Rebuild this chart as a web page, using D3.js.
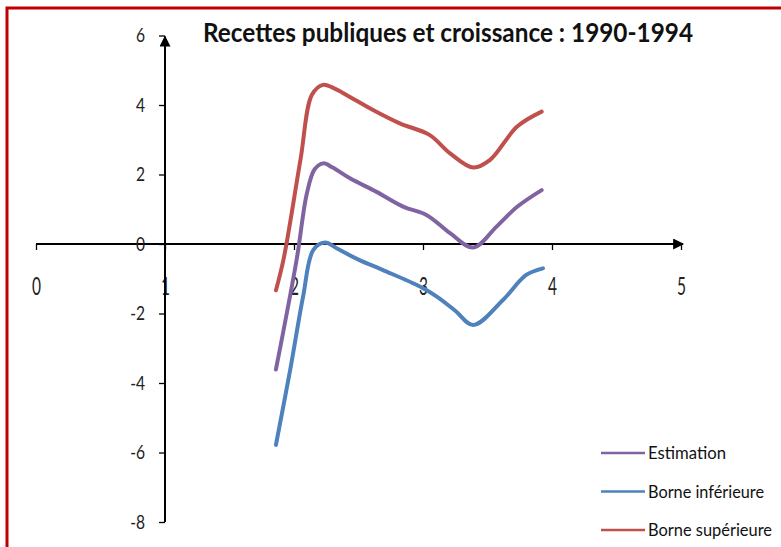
<!DOCTYPE html>
<html><head><meta charset="utf-8">
<script src="https://cdn.jsdelivr.net/npm/d3@7"></script>
<style>
html,body{margin:0;padding:0;background:#fff;}
svg{display:block;}
</style></head>
<body>
<svg id="chart" width="781" height="547"></svg>
<script>
// ---- data ----
const title = "Recettes publiques et croissance : 1990-1994";
const seriesNames = ["Estimation", "Borne inférieure", "Borne supérieure"];
const seriesColors = ["#8064A2", "#4F81BD", "#C0504D"];
const xTicks = [0, 1, 2, 3, 4, 5];
const yTicks = [-8, -6, -4, -2, 0, 2, 4, 6];

const estimationX = [1.86, 2.02, 2.10, 2.16, 2.227, 2.30, 2.434, 2.64, 2.85, 3.03, 3.21, 3.39, 3.57, 3.73, 3.92];
const estimationY = [-3.61, -0.46, 1.46, 2.15, 2.32, 2.20, 1.89, 1.50, 1.07, 0.83, 0.31, -0.10, 0.50, 1.07, 1.55];

const inferieureX = [1.86, 1.97, 2.07, 2.15, 2.24, 2.33, 2.50, 2.69, 2.98, 3.11, 3.25, 3.39, 3.62, 3.80, 3.93];
const inferieureY = [-5.78, -3.63, -1.52, -0.17, 0.04, -0.12, -0.45, -0.75, -1.23, -1.52, -1.92, -2.33, -1.61, -0.89, -0.70];

const superieureX = [1.86, 1.92, 2.05, 2.14, 2.225, 2.30, 2.43, 2.62, 2.82, 3.05, 3.21, 3.39, 3.52, 3.73, 3.92];
const superieureY = [-1.33, -0.42, 2.42, 4.30, 4.58, 4.50, 4.24, 3.84, 3.47, 3.14, 2.61, 2.20, 2.42, 3.38, 3.81];

// ---- drawing ----
const svg = d3.select("#chart");
const x = d3.scaleLinear().domain([0, 5]).range([36, 681]);
const y = d3.scaleLinear().domain([-8, 6]).range([522, 35.5]);
const fmt = d => String(d);

// frame
svg.append("path").attr("d", "M7,547 V8 H781").attr("fill", "none")
  .attr("stroke", "#C00000").attr("stroke-width", 3);

const defs = svg.append("defs");
defs.append("marker").attr("id", "arr").attr("viewBox", "0 0 10 10")
  .attr("refX", 9).attr("refY", 5).attr("markerWidth", 14).attr("markerHeight", 11)
  .attr("markerUnits", "userSpaceOnUse").attr("orient", "auto")
  .append("path").attr("d", "M0,0 L10,5 L0,10 Z").attr("fill", "#000");

// x axis
const xAxis = d3.axisBottom(x).tickValues(xTicks).tickSizeInner(6).tickSizeOuter(0).tickPadding(27)
  .tickFormat(fmt);
const gx = svg.append("g").attr("transform", `translate(0,${y(0)})`).call(xAxis);
gx.select(".domain").remove();
gx.append("line").attr("x1", x(0)).attr("x2", x(5) + 2).attr("y1", 0).attr("y2", 0)
  .attr("stroke", "#000").attr("stroke-width", 2).attr("marker-end", "url(#arr)");
gx.selectAll(".tick line").attr("stroke", "#000").attr("stroke-width", 1.3);
gx.selectAll(".tick text").attr("font-family", "Lato, 'Open Sans', sans-serif")
  .attr("font-size", 25).attr("fill", "#222").attr("transform", "scale(0.62,1)");

// y axis
const yAxis = d3.axisLeft(y).tickValues(yTicks).tickSizeInner(6).tickSizeOuter(0).tickPadding(14)
  .tickFormat(fmt);
const gy = svg.append("g").attr("transform", `translate(${x(1)},0)`).call(yAxis);
gy.select(".domain").remove();
gy.append("line").attr("x1", 0).attr("x2", 0).attr("y1", y(-8)).attr("y2", y(6) + 1)
  .attr("stroke", "#000").attr("stroke-width", 2).attr("marker-end", "url(#arr)");
gy.selectAll(".tick line").attr("stroke", "#000").attr("stroke-width", 1.3);
gy.selectAll(".tick text").attr("font-family", "Lato, 'Open Sans', sans-serif")
  .attr("font-size", 20).attr("fill", "#222")
  .attr("x", -20 / 0.78).attr("transform", "scale(0.78,1)");

// lines
const line = d3.line().x(d => x(d[0])).y(d => y(d[1])).curve(d3.curveCatmullRom.alpha(0.5));
const seriesData = [
  d3.zip(estimationX, estimationY),
  d3.zip(inferieureX, inferieureY),
  d3.zip(superieureX, superieureY)
];
seriesData.forEach((data, i) => {
  svg.append("path").datum(data).attr("d", line).attr("fill", "none")
    .attr("stroke", seriesColors[i]).attr("stroke-width", 4)
    .attr("stroke-linecap", "round").attr("stroke-linejoin", "round");
});

// title
svg.append("text").attr("x", 203).attr("y", 42).text(title)
  .attr("font-family", "Lato, 'Open Sans', sans-serif").attr("font-weight", "bold")
  .attr("font-size", 26).attr("fill", "#111")
  .attr("textLength", 490).attr("lengthAdjust", "spacingAndGlyphs");

// legend
const legendW = [78, 116, 124];
const lg = svg.append("g");
seriesNames.forEach((name, i) => {
  const ly = 453 + i * 38.5;
  lg.append("line").attr("x1", 601).attr("x2", 645).attr("y1", ly).attr("y2", ly)
    .attr("stroke", seriesColors[i]).attr("stroke-width", 2.5);
  lg.append("text").attr("x", 648).attr("y", ly + 6).text(name)
    .attr("font-family", "Lato, 'Open Sans', sans-serif").attr("font-size", 17).attr("fill", "#111")
    .attr("textLength", legendW[i]).attr("lengthAdjust", "spacingAndGlyphs");
});
</script>
</body></html>
